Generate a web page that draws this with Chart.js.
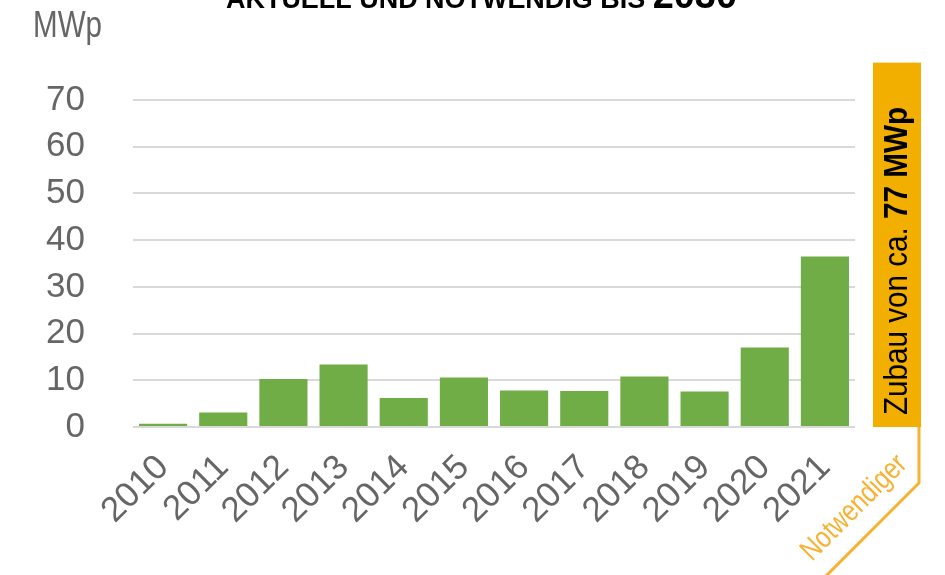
<!DOCTYPE html>
<html><head><meta charset="utf-8">
<script src="https://cdn.jsdelivr.net/npm/chart.js@4/dist/chart.umd.min.js"></script>
<style>html,body{margin:0;padding:0;background:#fff;} #wrap{position:relative;width:945px;height:575px;}</style>
</head><body><div id="wrap"><canvas id="c" width="945" height="575"></canvas></div>
<script>
// ---- data ----
const years = ['2010','2011','2012','2013','2014','2015','2016','2017','2018','2019','2020','2021'];
const zubau = [0.7, 3.1, 10.3, 13.4, 6.2, 10.6, 7.8, 7.7, 10.8, 7.6, 17.0, 36.5];
const yTickValues = [0, 10, 20, 30, 40, 50, 60, 70];
const zubauNotwendig = 78;
// ---- texts ----
const unitLabel = 'MWp';
const titleMain = 'AKTUELL UND NOTWENDIG BIS ';
const titleYear = '2030';
const boxTextRegular = 'Zubau von ca. ';
const boxTextBold = '77 MWp';
const notwendigLabel = 'Notwendiger';

const NARROW = '"Liberation Sans Narrow", "Liberation Sans", sans-serif';
const GREY = '#666666';
const ORANGE_BOX = '#F2AF00';
const ORANGE_LINE = '#F8B133';

function fitText(ctx, parts, targetLen) {
  let total = 0;
  parts.forEach(p => { ctx.font = p.font; p.w = ctx.measureText(p.text).width; total += p.w; });
  const s = targetLen ? targetLen / total : 1;
  ctx.save();
  ctx.scale(s, 1);
  let x = 0;
  parts.forEach(p => { ctx.font = p.font; ctx.fillText(p.text, x, 0); x += p.w; });
  ctx.restore();
}

const decor = {
  id: 'decor',
  afterDraw(chart) {
    const ctx = chart.ctx;
    const ya = chart.scales.y;
    const area = chart.chartArea;
    ctx.save();
    ctx.textBaseline = 'alphabetic';
    ctx.textAlign = 'left';

    // title (cut off at the top)
    ctx.fillStyle = '#000';
    ctx.save();
    ctx.translate(226, 8);
    fitText(ctx, [
      {text: titleMain, font: 'bold 27px "Liberation Sans", sans-serif'},
      {text: titleYear, font: 'bold 38px "Liberation Sans", sans-serif'}
    ], 511);
    ctx.restore();

    // unit label
    ctx.fillStyle = GREY;
    ctx.save();
    ctx.translate(33, 37);
    fitText(ctx, [{text: unitLabel, font: '36px ' + NARROW}], 69);
    ctx.restore();

    // orange box: needed expansion
    const bx = area.right + 18, bw = 48;
    const top = ya.getPixelForValue(zubauNotwendig);
    const bottom = ya.getPixelForValue(0);
    ctx.fillStyle = ORANGE_BOX;
    ctx.fillRect(bx, top, bw, bottom - top);

    ctx.fillStyle = '#000';
    ctx.save();
    ctx.translate(bx + 34, bottom - 12);
    ctx.rotate(-Math.PI / 2);
    fitText(ctx, [
      {text: boxTextRegular, font: '33px ' + NARROW},
      {text: boxTextBold, font: 'bold 33px ' + NARROW}
    ], 308);
    ctx.restore();

    // orange bracket line
    const lx = bx + bw - 2;
    ctx.strokeStyle = ORANGE_LINE;
    ctx.lineWidth = 3;
    ctx.beginPath();
    ctx.moveTo(lx, bottom);
    ctx.lineTo(lx, bottom + 56);
    ctx.lineTo(lx - 130, bottom + 56 + 130);
    ctx.stroke();

    // "Notwendiger"
    ctx.fillStyle = ORANGE_LINE;
    ctx.save();
    ctx.translate(812, 562);
    ctx.rotate(-Math.PI / 4);
    fitText(ctx, [{text: notwendigLabel, font: '30px ' + NARROW}], 136);
    ctx.restore();

    ctx.restore();
  }
};

new Chart(document.getElementById('c'), {
  type: 'bar',
  data: {
    labels: years,
    datasets: [{
      data: zubau,
      backgroundColor: '#70AD47',
      borderWidth: 0,
      categoryPercentage: 0.8,
      barPercentage: 1.0
    }]
  },
  options: {
    responsive: false,
    animation: false,
    devicePixelRatio: 1,
    layout: { padding: { top: 100, right: 90, left: 0, bottom: 0 } },
    plugins: { legend: { display: false }, tooltip: { enabled: false }, title: { display: false } },
    scales: {
      x: {
        grid: { display: false },
        border: { display: false },
        ticks: {
          autoSkip: false,
          minRotation: 45,
          maxRotation: 45,
          padding: 12,
          color: GREY,
          font: { family: NARROW, size: 35 }
        },
        afterFit(scale) { scale.height = 148; }
      },
      y: {
        min: 0,
        max: 70,
        afterBuildTicks(scale) { scale.ticks = yTickValues.map(v => ({ value: v })); },
        grid: { color: '#D9D9D9', lineWidth: 2, drawTicks: false },
        border: { display: false },
        ticks: {
          padding: 48,
          color: GREY,
          font: { family: NARROW, size: 35 }
        },
        afterFit(scale) { scale.width = 133; }
      }
    }
  },
  plugins: [decor]
});
</script>
</body></html>
